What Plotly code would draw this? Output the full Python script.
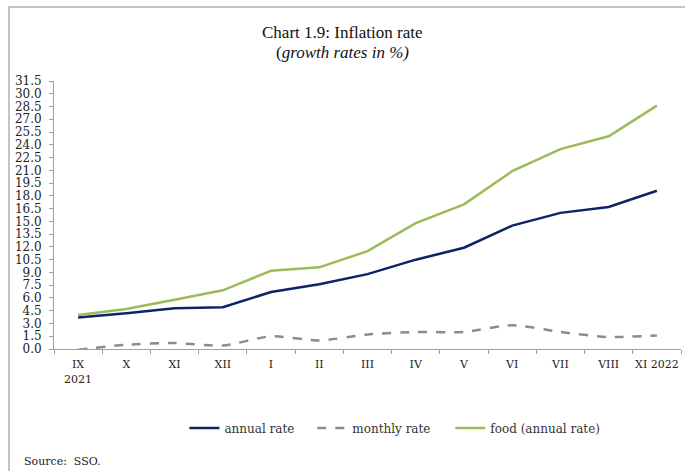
import plotly.graph_objects as go

categories = ["IX<br>2021", "X", "XI", "XII", "I", "II", "III", "IV", "V", "VI", "VII", "VIII", "XI 2022"]
annual_rate = [3.7, 4.2, 4.8, 4.9, 6.7, 7.6, 8.8, 10.5, 11.9, 14.5, 16.0, 16.7, 18.6]
monthly_rate = [-0.1, 0.5, 0.7, 0.4, 1.5, 1.0, 1.7, 2.0, 2.0, 2.8, 2.0, 1.4, 1.6]
food_rate = [4.0, 4.7, 5.8, 6.9, 9.2, 9.6, 11.5, 14.8, 17.0, 20.9, 23.5, 25.0, 28.6]
y_ticks = [i * 1.5 for i in range(22)]

SERIF = "DejaVu Serif"
fig = go.Figure()
fig.add_trace(go.Scatter(x=categories, y=annual_rate, mode="lines", name="annual rate",
                         line=dict(color="#0b2466", width=2.5), legend="legend"))
fig.add_trace(go.Scatter(x=categories, y=monthly_rate, mode="lines", name="monthly rate",
                         line=dict(color="#8c8c8c", width=2.5, dash="dash", shape="spline", smoothing=0.6),
                         legend="legend2"))
fig.add_trace(go.Scatter(x=categories, y=food_rate, mode="lines", name="food (annual rate)",
                         line=dict(color="#9bbb59", width=2.5), legend="legend3"))

leg_common = dict(orientation="h", xanchor="left", y=-0.295, yanchor="middle",
                  font=dict(family=SERIF, size=12, color="#333333"), itemwidth=30,
                  bgcolor="rgba(0,0,0,0)")

fig.update_layout(
    width=685, height=471,
    margin=dict(l=54, r=4, t=81, b=122, autoexpand=False),
    paper_bgcolor="white", plot_bgcolor="white",
    font=dict(family=SERIF, size=12, color="#222222"),
    showlegend=True,
    legend=dict(x=0.208, **leg_common),
    legend2=dict(x=0.412, **leg_common),
    legend3=dict(x=0.632, **leg_common),
    xaxis=dict(type="category", tickson="boundaries", ticks="outside", ticklen=4,
               tickcolor="#a0a0a0", showline=True, linecolor="#a0a0a0", linewidth=1,
               showgrid=False, zeroline=False, tickfont=dict(family=SERIF, size=11),
               tickangle=0, automargin=False, ticklabelstandoff=5,
               range=[-0.5, 12.5]),
    yaxis=dict(range=[0, 31.5], tickvals=y_ticks, ticktext=[f"{v:.1f}" for v in y_ticks],
               ticks="outside", ticklen=4, tickcolor="#a0a0a0", showline=True,
               linecolor="#a0a0a0", linewidth=1, showgrid=False, zeroline=False,
               automargin=False, ticklabelstandoff=5,
               tickfont=dict(family=SERIF, size=12)),
    annotations=[
        dict(text="Chart 1.9: Inflation rate", xref="paper", yref="paper", x=0.46, y=1.0,
             yshift=49, showarrow=False, xanchor="center", yanchor="middle",
             font=dict(family="Liberation Serif", size=17, color="#111111")),
        dict(text="(<i>growth rates in %)</i>", xref="paper", yref="paper", x=0.46, y=1.0,
             yshift=29, showarrow=False, xanchor="center", yanchor="middle",
             font=dict(family="Liberation Serif", size=17, color="#111111")),
        dict(text="Source:  SSO.", xref="paper", yref="paper", x=-0.051, y=0, yshift=-112,
             xanchor="left", yanchor="middle", showarrow=False,
             font=dict(family=SERIF, size=11, color="#222222")),
    ],
    shapes=[dict(type="rect", xref="paper", yref="paper", x0=-0.0718, x1=1.2, y0=-0.6, y1=1.276,
                 line=dict(color="#b0b0b0", width=1.5), layer="below")],
)
fig.write_html("out.html", config={"displayModeBar": False},
               post_script="document.body.style.margin='0';document.body.style.padding='0';")
